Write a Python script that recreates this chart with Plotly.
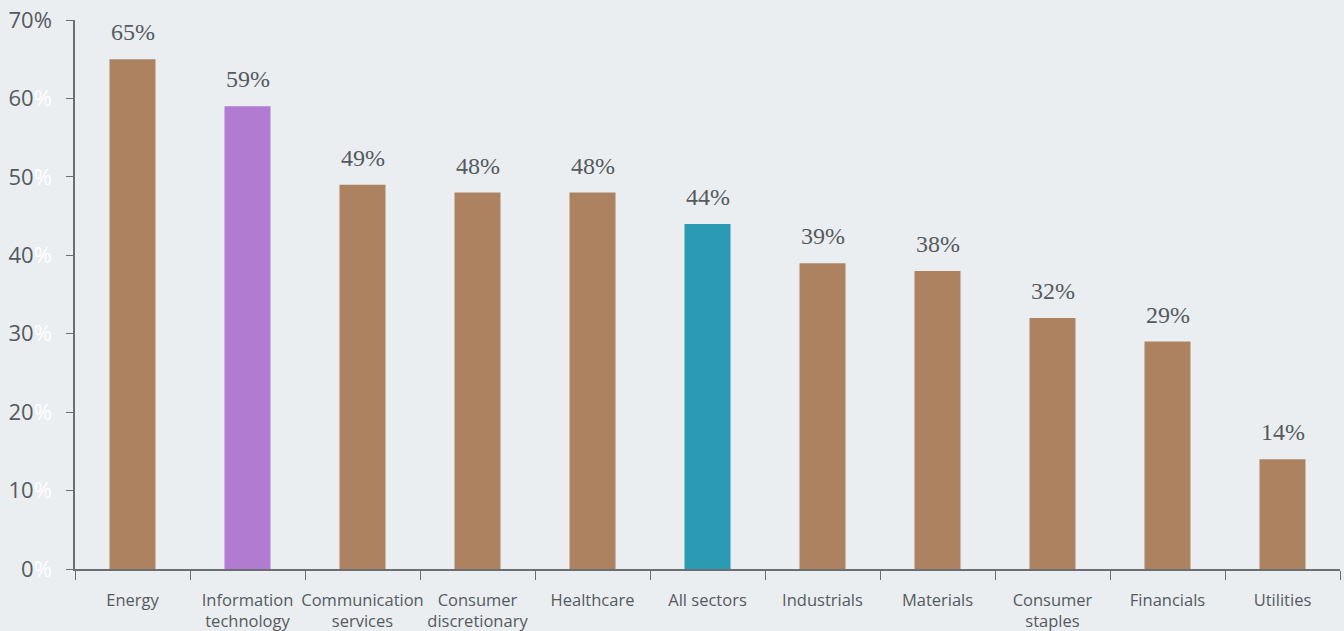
import plotly.graph_objects as go

sectors = ["Energy", "Information<br>technology", "Communication<br>services",
           "Consumer<br>discretionary", "Healthcare", "All sectors", "Industrials",
           "Materials", "Consumer<br>staples", "Financials", "Utilities"]
values = [65, 59, 49, 48, 48, 44, 39, 38, 32, 29, 14]
colors = ["#AD8260", "#B07BD0", "#AD8260", "#AD8260", "#AD8260", "#2A9AB3",
          "#AD8260", "#AD8260", "#AD8260", "#AD8260", "#AD8260"]
y_ticks = [0, 10, 20, 30, 40, 50, 60, 70]

tick_text = [f"{v}%" if v == 70 else f"{v}<span style='color:#ffffff'>%</span>" for v in y_ticks]

fig = go.Figure(go.Bar(
    x=sectors, y=values, marker_color=colors, width=0.4,
    marker_line=dict(width=0),
))

# value labels above each bar
for s, v in zip(sectors, values):
    fig.add_annotation(
        x=s, y=v, text=f"{v}%", showarrow=False, yanchor="bottom", yshift=12,
        font=dict(family="Liberation Serif, Georgia, serif", size=24, color="#555a5e"),
    )

fig.update_layout(
    width=1344, height=631,
    margin=dict(l=75, r=4, t=20, b=62, autoexpand=False),
    paper_bgcolor="#EAEEF1", plot_bgcolor="#EAEEF1",
    showlegend=False,
    bargap=0.6,
    font=dict(family="Open Sans, sans-serif", color="#555a5e"),
)
fig.update_xaxes(
    showline=True, linecolor="#6b6f73", linewidth=1.5,
    ticks="outside", tickson="boundaries", ticklen=9, tickcolor="#6b6f73",
    tickfont=dict(size=16.5, color="#555a5e"), tickangle=0, automargin=False,
    ticklabelstandoff=15,
    showgrid=False,
)
fig.update_yaxes(
    range=[0, 70], tickvals=y_ticks, ticktext=tick_text,
    showline=True, linecolor="#6b6f73", linewidth=1.5,
    ticks="outside", ticklen=7, tickcolor="#6b6f73",
    tickfont=dict(size=22, color="#555a5e"), automargin=False,
    ticklabelstandoff=10,
    showgrid=False, zeroline=False,
)

fig.write_html("out.html")
